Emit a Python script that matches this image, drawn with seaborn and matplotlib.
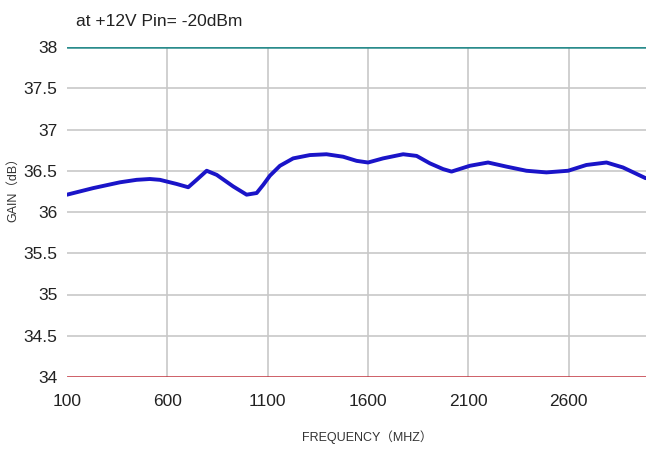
import matplotlib
matplotlib.use('Agg')
import pandas as pd
import matplotlib.pyplot as plt
import seaborn as sns

# Values
freq_mhz = [100, 231, 364, 447, 513, 563, 596, 646, 704, 746, 796, 846, 928, 995,
            1045, 1078, 1111, 1161, 1227, 1310, 1393, 1476, 1543, 1600, 1675, 1775,
            1842, 1908, 1974, 2016, 2107, 2198, 2290, 2389, 2489, 2597, 2688, 2788,
            2870, 2983]
gain_db = [36.21, 36.29, 36.36, 36.39, 36.40, 36.39, 36.37, 36.34, 36.30, 36.39,
           36.50, 36.45, 36.31, 36.21, 36.23, 36.33, 36.44, 36.56, 36.65, 36.69,
           36.70, 36.67, 36.62, 36.60, 36.65, 36.70, 36.68, 36.59, 36.52, 36.49,
           36.56, 36.60, 36.55, 36.50, 36.48, 36.50, 36.57, 36.60, 36.54, 36.41]
x_ticks = [100, 600, 1100, 1600, 2100, 2600]
y_ticks = [34, 34.5, 35, 35.5, 36, 36.5, 37, 37.5, 38]

df = pd.DataFrame({'freq': freq_mhz, 'gain': gain_db})

sns.set_style('white')
plt.rcParams['font.family'] = ['Liberation Sans', 'Noto Sans CJK SC', 'DejaVu Sans']

fig = plt.figure(figsize=(6.46, 4.5), dpi=100)
ax = fig.add_axes([67 / 646, 1 - 377 / 450, 1 - 67 / 646, (377 - 47) / 450])

# grid
for xt in x_ticks[1:]:
    ax.axvline(xt, color='#c8c8c8', lw=1.2, zorder=1)
for yt in y_ticks[1:-1]:
    ax.axhline(yt, color='#c8c8c8', lw=1.2, zorder=1)

ax.axhline(38, color='#2a8c8c', lw=1.8, zorder=2)
ax.axhline(34, color='#c0303a', lw=1.8, zorder=2)

sns.lineplot(data=df, x='freq', y='gain', ax=ax, color='#1a14c8', lw=2.8,
             zorder=3)

ax.set_xlim(100, 2985)
ax.set_ylim(34, 38)
ax.set_xticks(x_ticks)
ax.set_yticks(y_ticks)
ax.set_xticklabels([str(t) for t in x_ticks])
ax.set_yticklabels(['34', '34.5', '35', '35.5', '36', '36.5', '37', '37.5', '38'])
for lab in ax.get_xticklabels() + ax.get_yticklabels():
    lab.set_fontsize(12.5)
    lab.set_color('#222222')
ax.tick_params(axis='x', length=4, color='#c0303a', pad=12, direction='in')
ax.tick_params(axis='y', length=0, pad=7)
for s in ax.spines.values():
    s.set_visible(False)

ax.set_xlabel('')
ax.set_ylabel('')
fig.text(76 / 646, 1 - 26 / 450, 'at +12V Pin= -20dBm', fontsize=12.5,
         color='#222222', ha='left', va='baseline')
fig.text(367 / 646, 1 - 437 / 450, 'FREQUENCY（MHZ）', fontsize=9,
         color='#333333', ha='center', va='center')
fig.text(13 / 646, 1 - 187 / 450, 'GAIN（dB）', fontsize=9, rotation=90,
         color='#333333', ha='center', va='center')

fig.savefig('out.png', dpi=100)
